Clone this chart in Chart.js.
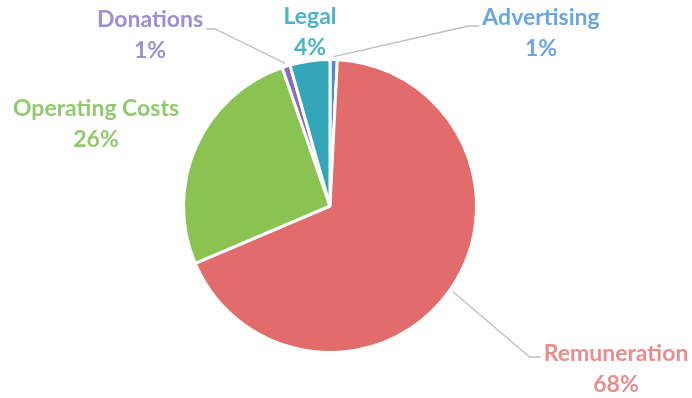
<!DOCTYPE html>
<html>
<head>
<meta charset="utf-8">
<script src="https://cdn.jsdelivr.net/npm/chart.js@4.4.1/dist/chart.umd.min.js"></script>
<style>
  html, body { margin: 0; padding: 0; background: #fff; }
  #wrap { width: 692px; height: 398px; position: relative; }
</style>
</head>
<body>
<div id="wrap"><canvas id="pieChart"></canvas></div>
<script>
// ===============================
// data
// ===============================
const categories = ["Advertising", "Remuneration", "Operating Costs", "Donations", "Legal"];
const shares = [0.8, 67.8, 26.1, 0.9, 4.4];

const SLICE_COLORS = ["#4f8bd3", "#e26b6b", "#8bc352", "#806ebe", "#33a6b9"];
const LABEL_COLORS = ["#6aa6e0", "#ea8d8d", "#93c96e", "#9e8fd2", "#4cb4c6"];

// label placement (pixel centre of first text line) + leader elbow
const LABEL_LAYOUT = [
  { x: 541, y: 18, leader: { side: "left", y: 26 } },
  { x: 616, y: 354, leader: { side: "left", y: 357 } },
  { x: 96, y: 109, leader: null },
  { x: 150, y: 20, leader: { side: "right", y: 29 } },
  { x: 310, y: 17, leader: null }
];

const LABEL_FONT = "bold 23px Lato, 'Open Sans', sans-serif";
const LINE_GAP = 31;

/* -----------------------------------------------------
   outside labels with leader lines
----------------------------------------------------- */
const outsideLabels = {
  id: "outsideLabels",
  afterDraw(chart) {
    const ctx = chart.ctx;
    const meta = chart.getDatasetMeta(0);
    const total = shares.reduce((a, b) => a + b, 0);

    ctx.save();
    ctx.font = LABEL_FONT;
    ctx.textAlign = "center";
    ctx.textBaseline = "middle";

    meta.data.forEach((arc, i) => {
      const lay = LABEL_LAYOUT[i];
      const pct = Math.round(shares[i] / total * 100) + "%";
      const w = ctx.measureText(categories[i]).width;

      if (lay.leader) {
        const mid = (arc.startAngle + arc.endAngle) / 2;
        const r = arc.outerRadius + 3;
        const sx = arc.x + Math.cos(mid) * r;
        const sy = arc.y + Math.sin(mid) * r;
        const edge = lay.leader.side === "left" ? lay.x - w / 2 - 3 : lay.x + w / 2 + 3;
        const elbow = lay.leader.side === "left" ? edge - 11 : edge + 9;

        ctx.strokeStyle = "#bfbfbf";
        ctx.lineWidth = 1.3;
        ctx.beginPath();
        ctx.moveTo(sx, sy);
        ctx.lineTo(elbow, lay.leader.y);
        ctx.lineTo(edge, lay.leader.y);
        ctx.stroke();
      }

      ctx.fillStyle = LABEL_COLORS[i];
      ctx.fillText(categories[i], lay.x, lay.y);
      ctx.fillText(pct, lay.x, lay.y + LINE_GAP);
    });
    ctx.restore();
  }
};

new Chart(document.getElementById("pieChart"), {
  type: "pie",
  data: {
    labels: categories,
    datasets: [{
      data: shares,
      backgroundColor: SLICE_COLORS,
      borderColor: "#ffffff",
      borderWidth: 3
    }]
  },
  options: {
    responsive: true,
    maintainAspectRatio: false,
    animation: false,
    layout: { padding: { top: 58, bottom: 44, left: 100, right: 132 } },
    plugins: {
      legend: { display: false },
      tooltip: { enabled: false }
    }
  },
  plugins: [outsideLabels]
});
</script>
</body>
</html>
